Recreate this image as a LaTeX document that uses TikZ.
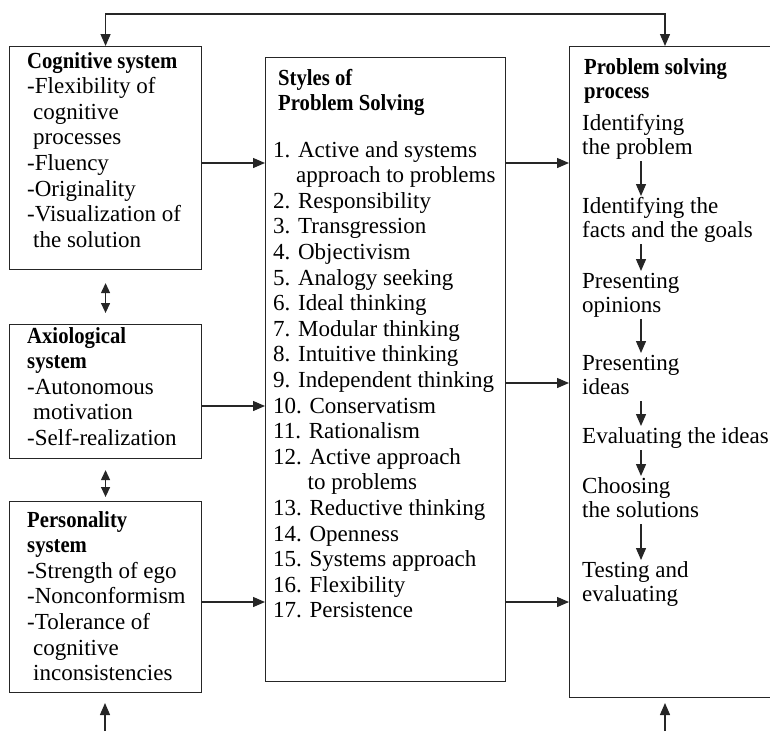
\documentclass[tikz,border=0pt]{standalone}
\usepackage{fontspec}
\setmainfont{Liberation Serif}[BoldFeatures={FakeStretch=0.9}]
\usetikzlibrary{arrows.meta}
\newcommand{\stack}[1]{\begin{tabular}[t]{@{}l@{}}#1\end{tabular}}
\newcommand{\ind}{\hspace*{6pt}}
\begin{document}
\begin{tikzpicture}[x=1pt,y=-1pt,
  box/.style={draw=black!85, line width=1.1pt, inner sep=0pt, anchor=north west},
  txt/.style={anchor=base west, inner sep=0pt, font=\fontsize{23}{25.6}\selectfont},
  rtxt/.style={anchor=base west, inner sep=0pt, font=\fontsize{23}{24}\selectfont},
  arr/.style={draw=black!85, line width=1.3pt, -{Triangle[length=12pt,width=10pt]}},
  darr/.style={draw=black!85, line width=1.3pt, {Triangle[length=10pt,width=9pt]}-{Triangle[length=10pt,width=9pt]}},
  barr/.style={draw=black!85, line width=1.3pt, {Triangle[length=12pt,width=10pt]}-{Triangle[length=12pt,width=10pt]}}]
\useasboundingbox (0,0) rectangle (770,731);
\clip (0,0) rectangle (770,731);

% boxes
\node[box, minimum width=192pt, minimum height=223pt] (cog) at (9,46) {};
\node[box, minimum width=192pt, minimum height=134pt] (axio) at (9,324) {};
\node[box, minimum width=192pt, minimum height=191pt] (pers) at (9,501) {};
\node[box, minimum width=240pt, minimum height=624pt] (mid) at (265,57) {};
\node[box, minimum width=225pt, minimum height=651pt] (proc) at (569,46) {};

% left texts
\node[txt] (cogt) at (27,68) {\stack{\textbf{Cognitive system}\\
-Flexibility of\\ \ind cognitive\\ \ind processes\\ -Fluency\\ -Originality\\
-Visualization of\\ \ind the solution}};
\node[txt] (axiot) at (27,343) {\stack{\textbf{Axiological}\\ \textbf{system}\\
-Autonomous\\ \ind motivation\\ -Self-realization}};
\node[txt] (perst) at (27,527) {\stack{\textbf{Personality}\\ \textbf{system}\\
-Strength of ego\\ -Nonconformism\\ -Tolerance of\\ \ind cognitive\\ \ind inconsistencies}};

% middle texts
\node[txt] (midh) at (278,85) {\stack{\textbf{Styles of}\\ \textbf{Problem Solving}}};
\node[txt] (midt) at (273,157) {\stack{1. Active and systems\\
\phantom{1.}\ approach to problems\\
2. Responsibility\\ 3. Transgression\\ 4. Objectivism\\ 5. Analogy seeking\\
6. Ideal thinking\\ 7. Modular thinking\\ 8. Intuitive thinking\\
9. Independent thinking\\ 10. Conservatism\\ 11. Rationalism\\
12. Active approach\\ \phantom{12.}\ to problems\\ 13. Reductive thinking\\
14. Openness\\ 15. Systems approach\\ 16. Flexibility\\ 17. Persistence}};

% right texts
\node[rtxt] (proch) at (584,74) {\stack{\textbf{Problem solving}\\ \textbf{process}}};
\node[rtxt] (g1) at (582,130) {\stack{Identifying\\ the problem}};
\node[rtxt] (g2) at (582,213) {\stack{Identifying the\\ facts and the goals}};
\node[rtxt] (g3) at (582,288) {\stack{Presenting\\ opinions}};
\node[rtxt] (g4) at (582,370) {\stack{Presenting\\ ideas}};
\node[rtxt] (g5) at (582,443) {\stack{Evaluating the ideas}};
\node[rtxt] (g6) at (582,493) {\stack{Choosing\\ the solutions}};
\node[rtxt] (g7) at (582,577) {\stack{Testing and\\ evaluating}};

% helper coordinates
\coordinate (ax) at (641,0);
\coordinate (rx) at (665,0);
\coordinate (loopy) at (0,14);
\coordinate (y1) at (0,163);
\coordinate (y2) at (0,406);
\coordinate (y3) at (0,602);
\coordinate (y4) at (0,383);
\coordinate (bl0) at (105,731);
\coordinate (bl1) at (105,703);
\coordinate (br0) at (665,731);
\coordinate (br1) at (665,703);

% process arrows
\draw[arr] (g1.south -| ax) -- (g2.north -| ax);
\draw[arr] (g2.south -| ax) -- (g3.north -| ax);
\draw[arr] (g3.south -| ax) -- (g4.north -| ax);
\draw[arr] (g4.south -| ax) -- (g5.north -| ax);
\draw[arr] (g5.south -| ax) -- (g6.north -| ax);
\draw[arr] (g6.south -| ax) -- (g7.north -| ax);

% left to middle
\draw[arr] (cog.east |- y1) -- (mid.west |- y1);
\draw[arr] (axio.east |- y2) -- (mid.west |- y2);
\draw[arr] (pers.east |- y3) -- (mid.west |- y3);
% middle to right
\draw[arr] (mid.east |- y1) -- (proc.west |- y1);
\draw[arr] (mid.east |- y4) -- (proc.west |- y4);
\draw[arr] (mid.east |- y3) -- (proc.west |- y3);

% between left boxes
\draw[darr] ([yshift=-13pt]cog.south) -- ([yshift=11pt]axio.north);
\draw[darr] ([yshift=-11pt]axio.south) -- ([yshift=4pt]pers.north);

% top loop
\draw[barr] (cog.north) -- (cog.north |- loopy) -| (proc.north -| rx);

% bottom arrows
\draw[arr] (bl0) -- (bl1);
\draw[arr] (br0) -- (br1);
\end{tikzpicture}
\end{document}
